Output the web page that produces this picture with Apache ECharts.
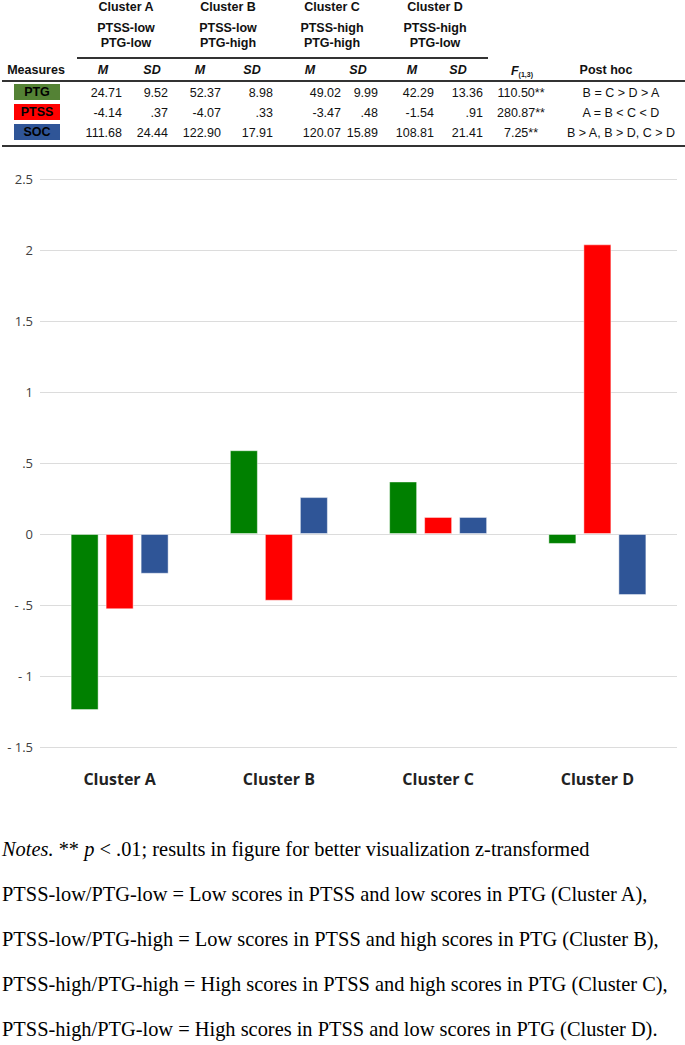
<!DOCTYPE html>
<html>
<head>
<meta charset="utf-8">
<script src="https://cdn.jsdelivr.net/npm/echarts@6/dist/echarts.min.js"></script>
<style>
  html, body { margin: 0; padding: 0; background: #fff; }
  #page { position: relative; width: 685px; height: 1045px; overflow: hidden; }
  #chart { position: absolute; left: 0; top: 0; width: 685px; height: 1045px; }
  .t { position: absolute; font-family: "Liberation Sans", Arial, sans-serif; font-size: 12.5px; color: #111; white-space: nowrap; line-height: 1; }
  .b { font-weight: bold; }
  .bi { font-weight: bold; font-style: italic; }
  .c { transform: translate(-50%, -50%); }
  .r { transform: translate(-100%, -50%); }
  .rule { position: absolute; background: #333; }
  .box { position: absolute; width: 46px; height: 16px; font-family: "Liberation Sans", Arial, sans-serif;
         font-weight: bold; font-size: 12.5px; color: #000; text-align: center; line-height: 16px; box-sizing: border-box; }
  .note { position: absolute; left: 2px; font-family: "Liberation Serif", "Times New Roman", serif; font-size: 20.4px;
          color: #000; white-space: nowrap; line-height: 1; transform: translateY(-50%); }
</style>
</head>
<body>
<div id="page">
  <div id="chart"></div>
  <div id="table"></div>
  <div id="notes"></div>
</div>
<script>
// chart data (z-transformed)
const clusters = ['Cluster A', 'Cluster B', 'Cluster C', 'Cluster D'];
const ptgZ = [-1.24, 0.59, 0.37, -0.07];
const ptssZ = [-0.53, -0.47, 0.12, 2.04];
const socZ = [-0.28, 0.26, 0.12, -0.43];

// table data
const clusterTypes = [['PTSS-low', 'PTG-low'], ['PTSS-low', 'PTG-high'], ['PTSS-high', 'PTG-high'], ['PTSS-high', 'PTG-low']];
const measures = ['PTG', 'PTSS', 'SOC'];
const ptgStats = ['24.71', '9.52', '52.37', '8.98', '49.02', '9.99', '42.29', '13.36'];
const ptssStats = ['-4.14', '.37', '-4.07', '.33', '-3.47', '.48', '-1.54', '.91'];
const socStats = ['111.68', '24.44', '122.90', '17.91', '120.07', '15.89', '108.81', '21.41'];
const fValues = ['110.50**', '280.87**', '7.25**'];
const postHoc = ['B = C > D > A', 'A = B < C < D', 'B > A, B > D, C > D'];

const notes = [
  '<i>Notes.</i> ** <i>p</i> &lt; .01; results in figure for better visualization z-transformed',
  'PTSS-low/PTG-low = Low scores in PTSS and low scores in PTG (Cluster A),',
  'PTSS-low/PTG-high = Low scores in PTSS and high scores in PTG (Cluster B),',
  'PTSS-high/PTG-high = High scores in PTSS and high scores in PTG (Cluster C),',
  'PTSS-high/PTG-low = High scores in PTSS and low scores in PTG (Cluster D).'
];

const green = '#008000';
const red = '#ff0000';
const blue = '#2f5597';

// ---- table (html) ----
const table = document.getElementById('table');
const add = (html, cls, x, y) => {
  const d = document.createElement('div');
  d.className = 't ' + cls;
  d.style.left = x + 'px';
  d.style.top = y + 'px';
  d.innerHTML = html;
  table.appendChild(d);
};
const rule = (x, y, w, h) => {
  const d = document.createElement('div');
  d.className = 'rule';
  Object.assign(d.style, { left: x + 'px', top: y + 'px', width: w + 'px', height: h + 'px' });
  table.appendChild(d);
};

const clusterCx = [126, 228, 332, 435];
clusters.forEach((c, i) => {
  add(c, 'b c', clusterCx[i], 7);
  add(clusterTypes[i][0], 'b c', clusterCx[i], 28);
  add(clusterTypes[i][1], 'b c', clusterCx[i], 43);
});
rule(77, 57, 411, 1.5);

const headCx = [103, 152, 200, 252, 310, 358, 412, 458];
add('Measures', 'b c', 36, 70);
headCx.forEach((x, i) => add(i % 2 ? 'SD' : 'M', 'bi c', x, 70));
add('F<sub style="font-size:7px;vertical-align:-2px;font-style:normal">(1,3)</sub>', 'bi c', 522, 71);
add('Post hoc', 'b c', 606, 70);
rule(2, 80, 683, 2);

const valRight = [122, 168, 221, 273, 341, 378, 434, 483];
const rowY = [93, 113, 133];
const boxColors = ['#548235', '#ff0000', '#2f5597'];
const boxTop = [84, 104, 124];
[ptgStats, ptssStats, socStats].forEach((row, r) => {
  const box = document.createElement('div');
  box.className = 'box';
  Object.assign(box.style, { left: '14px', top: boxTop[r] + 'px', background: boxColors[r] });
  box.textContent = measures[r];
  table.appendChild(box);
  row.forEach((v, i) => add(v, 'r', valRight[i], rowY[r]));
  add(fValues[r], 'c', 521, rowY[r]);
  add(postHoc[r], 'c', 621, rowY[r]);
});
rule(2, 145, 683, 2);

// ---- notes ----
const notesEl = document.getElementById('notes');
const noteY = [849, 894, 939, 984, 1029];
notes.forEach((n, i) => {
  const d = document.createElement('div');
  d.className = 'note';
  d.style.top = noteY[i] + 'px';
  d.innerHTML = n;
  notesEl.appendChild(d);
});

// ---- chart ----
const chart = echarts.init(document.getElementById('chart'), null, { renderer: 'svg' });

const yFmt = (v) => {
  if (v === 0) return '0';
  const s = String(Math.abs(v)).replace(/^0\./, '.');
  return v < 0 ? '- ' + s : s;
};

const barSeries = (name, data, color) => ({
  name,
  type: 'bar',
  data,
  barWidth: 28,
  barGap: '25%',
  itemStyle: { color, borderColor: 'rgba(255,255,255,0.45)', borderWidth: 1 }
});

chart.setOption({
  animation: false,
  grid: { left: 40, right: 8, top: 179, bottom: 298 },
  xAxis: {
    type: 'category',
    data: clusters,
    axisLine: { show: false },
    axisTick: { show: false },
    axisLabel: {
      margin: 24,
      color: '#222',
      fontFamily: 'Open Sans',
      fontWeight: 'bold',
      fontSize: 16
    }
  },
  yAxis: {
    type: 'value',
    min: -1.5,
    max: 2.5,
    interval: 0.5,
    axisLine: { show: false },
    axisTick: { show: false },
    splitLine: { lineStyle: { color: '#dcdcdc', width: 1 } },
    axisLabel: {
      formatter: yFmt,
      margin: 7,
      color: '#404040',
      fontFamily: 'Open Sans',
      fontSize: 13
    }
  },
  series: [
    barSeries('PTG', ptgZ, green),
    barSeries('PTSS', ptssZ, red),
    barSeries('SOC', socZ, blue)
  ]
});
</script>
</body>
</html>
